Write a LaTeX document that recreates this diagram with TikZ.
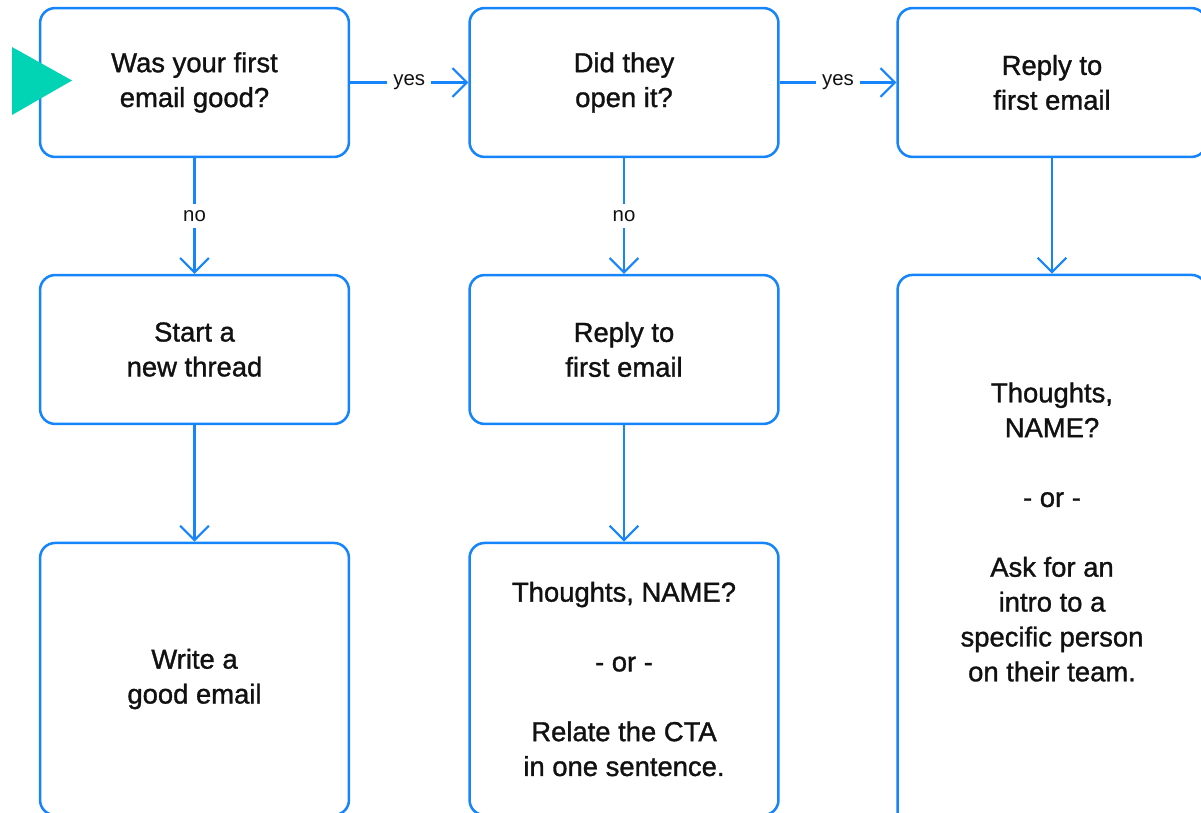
\documentclass[tikz,border=0pt]{standalone}
\usepackage{fontspec}
\setmainfont{Liberation Sans}
\newfontfamily\boxfont{Liberation Sans}[FakeBold=1.2]
\usetikzlibrary{arrows.meta}
\definecolor{flowblue}{RGB}{22,132,250}
\definecolor{startgreen}{RGB}{0,212,180}
\definecolor{ink}{RGB}{17,17,17}
\begin{document}
\begin{tikzpicture}[x=0.025cm,y=-0.025cm,
    box/.style={draw=flowblue,line width=1.8pt,rounded corners=0.375cm,
      minimum width=7.72cm,minimum height=3.72cm,align=center,text=ink,
      font=\boxfont\fontsize{19.5}{24.8}\selectfont},
    lowbox/.style={box,minimum height=6.8cm},
    tallbox/.style={box,minimum height=14.125cm},
    txt/.style={align=center,text=ink,font=\boxfont\fontsize{19.5}{24.8}\selectfont},
    flow/.style={draw=flowblue,line width=1.5pt,
      -{Straight Barb[length=0.36cm,width=0.72cm]}},
    lbl/.style={fill=white,text=ink,inner sep=0.15cm,
      font=\fontsize{14.5}{17}\selectfont}]
  \useasboundingbox (0,0) rectangle (1201,813);
  \clip (0,0) rectangle (1201,813);
  % first row
  \node[box] (q1) at (194.5,82.5) {Was your first\\email good?};
  \node[box] (q2) at (624,82.5) {Did they\\open it?};
  \node[box] (r1) at (1052,82.5) {Reply to\\first email};
  % second row
  \node[box] (s1) at (194.5,349.5) {Start a\\new thread};
  \node[box] (r2) at (624,349.5) {Reply to\\first email};
  \node[tallbox] (t3box) at (1052,557.5) {};
  \node[txt] (t3) at (1052,532) {Thoughts,\\NAME?\\[24.8pt]- or -\\[24.8pt]Ask for an\\intro to a\\specific person\\on their team.};
  % third row
  \node[lowbox] (w1) at (194.5,679) {Write a\\good email};
  \node[lowbox] (t2) at (624,679) {Thoughts, NAME?\\[24.8pt]- or -\\[24.8pt]Relate the CTA\\in one sentence.};
  % start marker
  \fill[startgreen] (12,47) -- (72,80.5) -- (12,115) -- cycle;
  % connectors
  \draw[flow] (q1) -- node[lbl]{yes} (q2);
  \draw[flow] (q2) -- node[lbl]{yes} (r1);
  \draw[flow] (q1) -- node[lbl]{no} (s1);
  \draw[flow] (q2) -- node[lbl]{no} (r2);
  \draw[flow] (r1) -- (t3box);
  \draw[flow] (s1) -- (w1);
  \draw[flow] (r2) -- (t2);
\end{tikzpicture}
\end{document}
